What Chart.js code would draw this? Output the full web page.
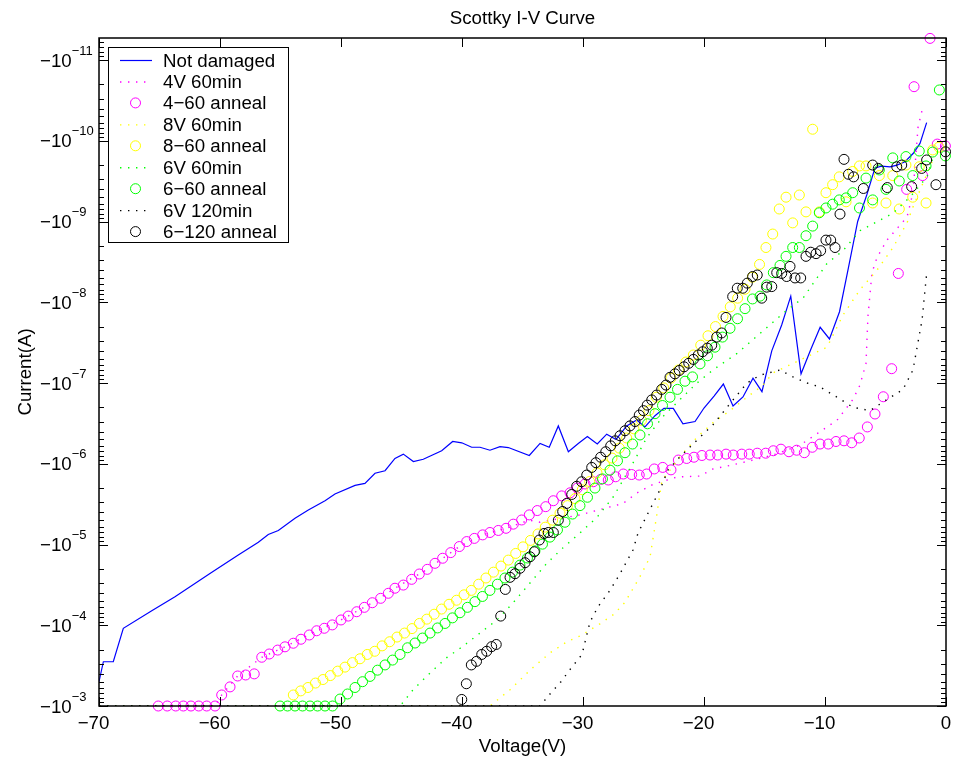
<!DOCTYPE html>
<html>
<head>
<meta charset="utf-8">
<title>Scottky I-V Curve</title>
<script src="https://cdn.jsdelivr.net/npm/chart.js@4.4.1/dist/chart.umd.min.js"></script>
<style>
  html, body { margin: 0; padding: 0; background: #fff; }
  canvas { display: block; }
</style>
</head>
<body>
<canvas id="ivChart" width="953" height="760"></canvas>
<script>
// Currents are all negative; the arrays hold their magnitude in A.
const voltNotDamaged = [-70.0, -69.64, -68.82, -67.99, -65.64, -63.72, -60.83, -58.49, -56.83, -56.01,
  -55.18, -53.80, -52.70, -51.32, -50.50, -48.84, -48.02, -47.19, -46.36, -45.54,
  -44.85, -44.02, -43.20, -41.68, -40.77, -40.02, -39.20, -38.51, -37.69, -36.86,
  -36.17, -34.44, -33.55, -32.79, -32.04, -31.21, -30.39, -29.64, -28.82, -28.04,
  -27.27, -26.39, -25.56, -24.88, -24.05, -23.31, -22.54, -21.74, -20.74, -20.0,
  -19.17, -18.40, -17.60, -16.78, -15.95, -15.21, -14.40, -13.58, -12.83, -11.98,
  -11.16, -10.40, -9.63, -8.80, -8.07, -7.30, -6.55, -5.87, -5.31, -4.63,
  -4.05, -3.39, -2.70, -2.15, -1.60];
const currNotDamaged = [5.0e-4, 2.83e-4, 2.83e-4, 1.09e-4, 6.6e-5, 4.43e-5, 2.28e-5, 1.35e-5, 9.4e-6, 7.5e-6,
  6.7e-6, 4.74e-6, 3.74e-6, 2.87e-6, 2.37e-6, 1.85e-6, 1.75e-6, 1.31e-6, 1.22e-6, 8.6e-7,
  7.6e-7, 9.4e-7, 8.8e-7, 6.9e-7, 5.3e-7, 5.5e-7, 6.25e-7, 6.25e-7, 6.8e-7, 6.15e-7,
  6.3e-7, 7.9e-7, 5.6e-7, 6.25e-7, 3.4e-7, 7.1e-7, 5.6e-7, 4.6e-7, 5.7e-7, 4.3e-7,
  5.0e-7, 3.4e-7, 2.87e-7, 3.5e-7, 2.54e-7, 2.06e-7, 2.06e-7, 3.2e-7, 3.0e-7, 2.04e-7,
  1.45e-7, 1.03e-7, 1.93e-7, 1.49e-7, 8.7e-8, 1.28e-7, 4.0e-8, 1.91e-8, 8.4e-9, 7.7e-8,
  3.8e-8, 2.04e-8, 2.85e-8, 1.31e-8, 3.77e-9, 1.0e-9, 4.7e-10, 2.17e-10, 2.06e-10, 2.1e-10,
  2.0e-10, 1.82e-10, 1.43e-10, 1.08e-10, 5.97e-11];

const volt4V60 = [-70.0, -60.41, -59.86, -58.54, -56.55, -54.63, -52.01, -50.0, -47.41, -45.54,
  -42.87, -40.22, -38.29, -36.36, -34.44, -33.55, -30.25, -26.69,
  -25.54, -24.21, -22.23, -20.33, -19.26, -17.60, -15.95, -14.30, -12.07, -10.41,
  -9.01, -7.69, -7.11, -6.61, -6.45, -6.12, -5.70, -4.88, -3.22, -2.73, -2.31, -1.98];
const curr4V60 = [1e-3, 1e-3, 7.3e-4, 4.25e-4, 2.49e-4, 1.85e-4, 1.17e-4, 8.6e-5, 5.26e-5, 3.48e-5,
  2.03e-5, 1.06e-5, 7.6e-6, 6.3e-6, 5.0e-6, 5.3e-6, 4.3e-6, 3.1e-6,
  2.3e-6, 1.8e-6, 1.46e-6, 1.42e-6, 1.16e-6, 1.03e-6, 9.0e-7, 7.8e-7, 5.9e-7, 4.0e-7,
  2.9e-7, 1.6e-7, 1.06e-7, 5.7e-8, 1.5e-8, 4.3e-9, 2.8e-9, 1.7e-9, 8.8e-10, 4.4e-10, 6.8e-11, 4.2e-11];

const voltAnneal4_60 = [-65.10, -64.36, -63.66, -63.03, -62.40, -61.76, -61.10, -60.41,
  -59.86, -59.17, -58.54, -57.88, -57.17, -56.55, -55.93, -55.23, -54.63, -53.94,
  -53.31, -52.62, -52.01, -51.38, -50.72, -50.00, -49.40, -48.70, -48.07, -47.41,
  -46.72, -46.09, -45.54, -44.85, -44.16, -43.53, -42.87, -42.23, -41.60, -40.93,
  -40.22, -39.61, -38.98, -38.29, -37.69, -37.00, -36.36, -35.76, -35.07, -34.44,
  -33.78, -33.08, -32.45, -31.76, -31.07, -30.47, -29.83, -29.15, -28.54, -27.91,
  -27.30, -26.67, -25.98, -25.35, -24.74, -24.11, -23.41, -22.73, -22.12, -21.43,
  -20.83, -20.17, -19.50, -18.87, -18.18, -17.58, -16.88, -16.26, -15.60, -14.90,
  -14.27, -13.64, -12.98, -12.34, -11.71, -11.05, -10.41, -9.73, -9.09, -8.43,
  -7.79, -7.17, -6.50, -5.87, -5.18, -4.49, -3.94, -3.25, -2.64, -1.93,
  -1.32, -0.72, -0.05];
const currAnneal4_60 = [1e-3, 1e-3, 1e-3, 1e-3, 1e-3, 1e-3, 1e-3, 1e-3,
  7.3e-4, 5.8e-4, 4.25e-4, 4.13e-4, 4.0e-4, 2.49e-4, 2.27e-4, 2.03e-4, 1.85e-4, 1.67e-4,
  1.49e-4, 1.32e-4, 1.17e-4, 1.09e-4, 9.9e-5, 8.6e-5, 7.7e-5, 6.8e-5, 6.0e-5, 5.26e-5,
  4.64e-5, 4.02e-5, 3.48e-5, 3.18e-5, 2.70e-5, 2.32e-5, 2.03e-5, 1.71e-5, 1.48e-5, 1.26e-5,
  1.06e-5, 9.2e-6, 8.4e-6, 7.6e-6, 7.1e-6, 6.7e-6, 6.3e-6, 5.6e-6, 4.97e-6, 4.3e-6,
  3.8e-6, 3.4e-6, 2.87e-6, 2.5e-6, 2.29e-6, 2.0e-6, 1.78e-6, 1.67e-6, 1.56e-6, 1.59e-6,
  1.45e-6, 1.34e-6, 1.36e-6, 1.38e-6, 1.34e-6, 1.16e-6, 1.11e-6, 1.19e-6, 9.0e-7, 8.6e-7,
  8.3e-7, 7.9e-7, 7.8e-7, 7.8e-7, 7.6e-7, 7.8e-7, 7.6e-7, 7.6e-7, 7.4e-7, 7.4e-7,
  6.9e-7, 6.6e-7, 7.1e-7, 6.8e-7, 7.3e-7, 6.25e-7, 5.7e-7, 5.7e-7, 5.3e-7, 5.2e-7,
  5.5e-7, 4.8e-7, 3.5e-7, 2.42e-7, 1.48e-7, 6.65e-8, 4.4e-9, 4.0e-10, 2.14e-11, 2.7e-10,
  5.4e-12, 1.1e-10, 1.16e-10];

const volt8V60 = [-70.0, -37.69, -36.03, -34.38, -32.73, -31.32, -30.25, -28.60, -27.44, -26.53,
  -25.29, -24.46, -23.97, -23.47, -22.81, -21.98, -20.58, -19.26, -17.85, -16.45,
  -15.12, -14.30, -12.07, -9.83, -8.51, -7.11, -5.70, -4.38, -3.22, -2.73, -1.07];
const curr8V60 = [1e-3, 1e-3, 6.3e-4, 3.6e-4, 2.2e-4, 1.6e-4, 1.36e-4, 9.6e-5, 7.3e-5, 5.2e-5,
  2.5e-5, 1.43e-5, 5.0e-6, 1.6e-6, 1.2e-6, 8.2e-7, 4.7e-7, 3.1e-7, 2.2e-7, 1.5e-7,
  1.06e-7, 7.5e-8, 5.2e-8, 3.6e-8, 1.44e-8, 7.0e-9, 4.0e-9, 2.1e-9, 1.04e-9, 6.6e-10, 1.7e-10];

const voltAnneal8_60 = [-53.94, -53.33, -52.73, -52.11, -51.49, -50.88, -50.27, -49.67, -49.05, -48.43,
  -47.83, -47.21, -46.60, -45.98, -45.37, -44.75, -44.13, -43.52, -42.91, -42.30,
  -41.69, -41.07, -40.45, -39.83, -39.23, -38.62, -38.02, -37.40, -36.78, -36.17,
  -35.56, -34.96, -34.34, -33.72, -33.12, -32.51, -31.90, -31.28, -30.66, -30.06,
  -29.45, -28.84, -28.22, -27.60, -27.00, -26.39, -25.79, -25.17, -24.55, -23.94,
  -23.33, -22.73, -22.11, -21.49, -20.88, -20.27, -19.67, -19.05, -18.43, -17.83,
  -17.22, -16.61, -16.00, -15.41, -14.88, -14.32, -13.78, -13.22, -12.67, -12.12,
  -11.57, -11.02, -10.47, -9.92, -9.37, -8.82, -8.26, -7.71, -7.15, -6.61,
  -6.06, -5.51, -4.96, -4.40, -3.86, -3.31, -2.75, -2.21, -1.65, -1.10, -0.58];
const currAnneal8_60 = [7.3e-4, 6.5e-4, 5.9e-4, 5.2e-4, 4.7e-4, 4.2e-4, 3.7e-4, 3.3e-4, 2.9e-4, 2.6e-4,
  2.3e-4, 2.1e-4, 1.8e-4, 1.6e-4, 1.4e-4, 1.25e-4, 1.1e-4, 9.5e-5, 8.4e-5, 7.3e-5,
  6.3e-5, 5.5e-5, 4.9e-5, 4.2e-5, 3.7e-5, 3.1e-5, 2.6e-5, 2.2e-5, 1.85e-5, 1.56e-5,
  1.29e-5, 1.07e-5, 8.9e-6, 7.4e-6, 6.1e-6, 5.0e-6, 4.1e-6, 3.3e-6, 2.7e-6, 2.1e-6,
  1.66e-6, 1.3e-6, 1.03e-6, 8.5e-7, 6.4e-7, 4.8e-7, 3.7e-7, 2.9e-7, 2.2e-7, 1.5e-7,
  1.15e-7, 8.7e-8, 6.9e-8, 5.5e-8, 4.5e-8, 3.4e-8, 2.6e-8, 2.0e-8, 1.5e-8, 1.14e-8,
  8.9e-9, 6.9e-9, 4.9e-9, 3.4e-9, 2.1e-9, 1.43e-9, 7.0e-10, 5.0e-10, 1.04e-9, 4.7e-10,
  7.6e-10, 7.2e-11, 7.6e-10, 4.4e-10, 3.5e-10, 2.8e-10, 5.7e-10, 2.4e-10, 2.05e-10, 2.05e-10,
  5.9e-10, 2.7e-10, 5.9e-10, 2.7e-10, 7.0e-10, 2.0e-10, 5.0e-10, 2.1e-10, 5.9e-10, 1.3e-10, 1.2e-10];

const volt6V60 = [-70.0, -45.12, -44.05, -42.64, -41.24, -40.0, -38.51, -37.11, -35.79, -34.38,
  -32.98, -31.65, -30.25, -28.84, -27.52, -25.95, -24.71, -23.39, -21.98, -20.58,
  -19.26, -17.27, -15.95, -13.14, -11.82, -9.83, -8.51, -7.11, -4.38, -2.98, -1.57, -1.07];
const curr6V60 = [1e-3, 1e-3, 6.3e-4, 3.9e-4, 2.5e-4, 1.86e-4, 1.25e-4, 8.6e-5, 5.3e-5, 3.0e-5,
  1.7e-5, 1.1e-5, 7.2e-6, 4.6e-6, 2.6e-6, 1.03e-6, 4.7e-7, 2.6e-7, 1.6e-7, 1.0e-7,
  6.9e-8, 4.3e-8, 2.9e-8, 1.25e-8, 8.9e-9, 3.3e-9, 2.3e-9, 1.3e-9, 7.9e-10, 5.0e-10, 2.8e-10, 1.6e-10];

const voltAnneal6_60 = [-55.04, -54.42, -53.80, -53.18, -52.56, -51.94, -51.32, -50.70,
  -50.08, -49.46, -48.84, -48.22, -47.60, -46.98, -46.36, -45.74, -45.12, -44.50,
  -43.88, -43.26, -42.64, -42.02, -41.40, -40.79, -40.17, -39.55, -38.93, -38.31,
  -37.69, -37.07, -36.45, -35.83, -35.21, -34.59, -33.97, -33.35, -32.73, -32.11,
  -31.49, -30.87, -30.25, -29.63, -29.01, -28.39, -27.77, -27.15, -26.53, -25.91,
  -25.29, -24.67, -24.05, -23.43, -22.81, -22.19, -21.57, -20.95, -20.33, -19.71,
  -19.09, -18.47, -17.85, -17.23, -16.61, -15.99, -15.37, -14.82, -14.27, -13.72,
  -13.22, -12.67, -12.12, -11.57, -11.02, -10.47, -9.92, -9.37, -8.82, -8.26,
  -7.71, -7.15, -6.61, -6.06, -5.51, -4.96, -4.40, -3.86, -3.31, -2.75,
  -2.21, -1.65, -1.10, -0.55, -0.05];
const currAnneal6_60 = [1e-3, 1e-3, 1e-3, 1e-3, 1e-3, 1e-3, 1e-3, 1e-3,
  8.2e-4, 7.1e-4, 5.9e-4, 5.0e-4, 4.3e-4, 3.6e-4, 3.1e-4, 2.7e-4, 2.3e-4, 1.9e-4,
  1.66e-4, 1.44e-4, 1.25e-4, 1.08e-4, 9.5e-5, 8.1e-5, 7.0e-5, 6.0e-5, 5.1e-5, 4.4e-5,
  3.7e-5, 3.1e-5, 2.6e-5, 2.2e-5, 1.8e-5, 1.47e-5, 1.2e-5, 9.9e-6, 8.1e-6, 6.6e-6,
  5.3e-6, 4.2e-6, 3.3e-6, 2.6e-6, 2.0e-6, 1.54e-6, 1.2e-6, 9.2e-7, 7.3e-7, 5.7e-7,
  4.4e-7, 3.2e-7, 2.4e-7, 1.9e-7, 1.5e-7, 1.2e-7, 9.5e-8, 8.4e-8, 5.8e-8, 4.6e-8,
  3.6e-8, 2.7e-8, 2.1e-8, 1.6e-8, 1.2e-8, 9.1e-9, 8.4e-9, 6.1e-9, 4.3e-9, 3.5e-9,
  2.7e-9, 2.1e-9, 2.1e-9, 1.5e-9, 1.14e-9, 7.8e-10, 6.8e-10, 6.1e-10, 5.4e-10, 5.1e-10,
  4.4e-10, 6.8e-10, 2.9e-10, 5.4e-10, 2.3e-10, 4.0e-10, 1.63e-10, 3.15e-10, 1.57e-10, 2.7e-10,
  1.34e-10, 2.05e-10, 1.38e-10, 2.35e-11, 1.54e-10];

const volt6V120 = [-70.0, -33.55, -32.73, -31.82, -30.99, -30.08, -29.75, -29.42, -28.76, -27.77,
  -26.94, -25.87, -25.45, -24.63, -23.64, -22.98, -21.98, -20.58, -19.26, -17.85,
  -16.45, -15.37, -13.72, -12.64, -11.49, -10.41, -9.01, -7.69, -6.28, -4.88,
  -3.55, -2.73, -1.98, -1.57];
const curr6V120 = [1e-3, 1e-3, 7.1e-4, 5.0e-4, 3.4e-4, 2.3e-4, 1.44e-4, 9.1e-5, 5.9e-5, 3.7e-5,
  2.3e-5, 1.17e-5, 7.2e-6, 4.1e-6, 2.1e-6, 1.2e-6, 8.2e-7, 5.1e-7, 3.3e-7, 1.8e-7,
  1.0e-7, 8.0e-8, 6.9e-8, 8.4e-8, 1.0e-7, 1.12e-7, 1.5e-7, 2.0e-7, 2.2e-7, 1.6e-7,
  1.2e-7, 6.9e-8, 1.66e-8, 4.0e-9];

const voltAnneal6_120 = [-40.02, -39.64, -39.23, -38.80, -38.37, -37.96, -37.55, -37.17, -36.80, -36.42,
  -36.03, -35.62, -35.21, -34.79, -34.38, -34.02, -33.61, -33.22, -32.87, -32.45,
  -32.04, -31.68, -31.35, -30.93, -30.52, -30.11, -29.69, -29.28, -28.93, -28.54,
  -28.12, -27.71, -27.33, -26.94, -26.53, -26.12, -25.70, -25.35, -25.00, -24.69,
  -24.32, -23.91, -23.50, -23.14, -22.81, -22.40, -22.04, -21.65, -21.26, -20.88,
  -20.47, -20.11, -19.73, -19.36, -18.95, -18.54, -18.18, -17.63, -17.25, -16.80,
  -16.42, -15.98, -15.60, -15.23, -14.82, -14.40, -13.99, -13.58, -13.17, -12.89,
  -12.48, -12.01, -11.57, -11.18, -10.74, -10.36, -9.92, -9.53, -9.17, -8.76,
  -8.43, -8.06, -7.64, -6.83, -6.06, -5.60, -4.85, -4.07, -3.66, -2.84,
  -2.01, -1.60, -0.83, -0.04];
const currAnneal6_120 = [8.3e-4, 5.3e-4, 3.1e-4, 2.8e-4, 2.3e-4, 2.1e-4, 1.84e-4, 1.73e-4, 7.7e-5, 3.6e-5,
  2.55e-5, 2.3e-5, 1.97e-5, 1.68e-5, 1.42e-5, 1.23e-5, 8.8e-6, 7.3e-6, 7.1e-6, 7.1e-6,
  5.0e-6, 3.9e-6, 3.1e-6, 2.4e-6, 1.9e-6, 1.67e-6, 1.38e-6, 1.11e-6, 9.7e-7, 8.3e-7,
  7.1e-7, 6.0e-7, 5.2e-7, 4.5e-7, 3.9e-7, 3.4e-7, 3.0e-7, 2.5e-7, 2.2e-7, 1.88e-7,
  1.62e-7, 1.41e-7, 1.2e-7, 1.06e-7, 8.5e-8, 7.7e-8, 7.0e-8, 6.3e-8, 5.7e-8, 5.1e-8,
  4.5e-8, 4.1e-8, 3.7e-8, 3.4e-8, 2.7e-8, 2.4e-8, 1.54e-8, 8.5e-9, 6.7e-9, 6.7e-9,
  5.8e-9, 4.8e-9, 4.6e-9, 8.9e-9, 6.5e-9, 6.4e-9, 4.3e-9, 4.4e-9, 4.8e-9, 3.6e-9,
  5.0e-9, 5.0e-9, 2.7e-9, 2.4e-9, 2.5e-9, 2.3e-9, 1.7e-9, 1.7e-9, 2.1e-9, 8.1e-10,
  1.7e-10, 2.6e-10, 2.8e-10, 3.9e-10, 2.0e-10, 2.2e-10, 3.8e-10, 2.1e-10, 2.0e-10, 3.7e-10,
  2.2e-10, 1.73e-10, 3.5e-10, 1.37e-10];

const xTicks = [-70, -60, -50, -40, -30, -20, -10, 0];
const yDecades = [-11, -10, -9, -8, -7, -6, -5, -4, -3];
const xMin = -70, xMax = 0;
const yMin = 5.34e-12, yMax = 1e-3;

const FONT = '"Liberation Sans", Arial, Helvetica, sans-serif';
const TEXT_PX = 18.7;

function pts(volts, currs) {
  return volts.map((v, i) => ({ x: v, y: currs[i] }));
}

function lineSet(label, color, volts, currs, dotted, order) {
  return {
    label: label,
    data: pts(volts, currs),
    showLine: true,
    borderColor: color,
    borderWidth: dotted ? 1.4 : 1.2,
    borderDash: dotted ? [1.4, 6.6] : [],
    pointRadius: 0,
    order: order
  };
}

function circleSet(label, color, volts, currs, order) {
  return {
    label: label,
    data: pts(volts, currs),
    showLine: false,
    pointStyle: 'circle',
    pointRadius: 5,
    pointBorderWidth: 1,
    pointBorderColor: color,
    pointBackgroundColor: 'rgba(0,0,0,0)',
    borderColor: color,
    clip: false,
    order: order
  };
}

// later datasets get a lower order so they are painted on top, like the original plot
const datasets = [
  lineSet('Not damaged', '#0000ff', voltNotDamaged, currNotDamaged, false, 8),
  lineSet('4V 60min', '#ff00ff', volt4V60, curr4V60, true, 7),
  circleSet('4\u221260 anneal', '#ff00ff', voltAnneal4_60, currAnneal4_60, 6),
  lineSet('8V 60min', '#ffff00', volt8V60, curr8V60, true, 5),
  circleSet('8\u221260 anneal', '#ffff00', voltAnneal8_60, currAnneal8_60, 4),
  lineSet('6V 60min', '#00ff00', volt6V60, curr6V60, true, 3),
  circleSet('6\u221260 anneal', '#00ff00', voltAnneal6_60, currAnneal6_60, 2),
  lineSet('6V 120min', '#000000', volt6V120, curr6V120, true, 1),
  circleSet('6\u2212120 anneal', '#000000', voltAnneal6_120, currAnneal6_120, 0)
];

// axes box, inward ticks, tex-like labels and the boxed legend
const matlabAxes = {
  id: 'matlabAxes',
  beforeDraw(chart) {
    const c = chart.ctx;
    c.save();
    c.fillStyle = '#ffffff';
    c.fillRect(0, 0, chart.width, chart.height);
    c.restore();
  },
  afterDatasetsDraw(chart) {
    const c = chart.ctx, a = chart.chartArea;
    const xs = chart.scales.x, ys = chart.scales.y;
    c.save();
    c.strokeStyle = '#000';
    c.lineWidth = 1;
    c.beginPath();
    xTicks.forEach(v => {
      const px = Math.round(xs.getPixelForValue(v)) + 0.5;
      c.moveTo(px, a.bottom); c.lineTo(px, a.bottom - 9);
      c.moveTo(px, a.top); c.lineTo(px, a.top + 9);
    });
    for (let e = -12; e <= -3; e++) {
      for (let k = 1; k <= 9; k++) {
        const v = k * Math.pow(10, e);
        if (v < yMin || v > yMax * 1.0001) continue;
        const py = Math.round(ys.getPixelForValue(v)) + 0.5;
        const len = k === 1 ? 9 : 5;
        c.moveTo(a.left, py); c.lineTo(a.left + len, py);
        c.moveTo(a.right, py); c.lineTo(a.right - len, py);
      }
    }
    c.stroke();

    c.lineWidth = 1.5;
    c.strokeRect(a.left, a.top, a.right - a.left, a.bottom - a.top);

    c.fillStyle = '#000';
    c.textBaseline = 'alphabetic';

    // x tick labels: digits centred on the tick, the minus hangs to the left
    c.font = TEXT_PX + 'px ' + FONT;
    xTicks.forEach(v => {
      const px = xs.getPixelForValue(v);
      const digits = String(Math.abs(v));
      const dw = c.measureText(digits).width;
      c.textAlign = 'right';
      c.fillText((v < 0 ? '\u2212' : '') + digits, px + dw / 2, a.bottom + 23);
    });

    // y tick labels: −10 with a raised exponent
    c.textAlign = 'left';
    yDecades.forEach(e => {
      const py = ys.getPixelForValue(Math.pow(10, e));
      c.font = TEXT_PX + 'px ' + FONT;
      const base = '\u221210';
      c.fillText(base, 40, py + 6.5);
      const w = c.measureText(base).width;
      c.font = '13px ' + FONT;
      c.fillText('\u2212' + Math.abs(e), 40 + w, py - 5.5);
    });

    // title and axis titles
    const cx = (a.left + a.right) / 2;
    c.font = TEXT_PX + 'px ' + FONT;
    c.textAlign = 'center';
    c.fillText('Scottky I-V Curve', cx, 24);
    c.fillText('Voltage(V)', cx, 752);
    c.save();
    c.translate(31, (a.top + a.bottom) / 2);
    c.rotate(-Math.PI / 2);
    c.fillText('Current(A)', 0, 0);
    c.restore();
    c.restore();
  },
  afterDraw(chart) {
    const c = chart.ctx;
    const box = { x: 108.5, y: 47.5, w: 180, h: 195 };
    const rowTop = 60, rowStep = 21.45;
    c.save();
    c.fillStyle = '#fff';
    c.fillRect(box.x, box.y, box.w, box.h);
    c.strokeStyle = '#000';
    c.lineWidth = 1;
    c.strokeRect(box.x, box.y, box.w, box.h);
    c.font = TEXT_PX + 'px ' + FONT;
    c.textAlign = 'left';
    c.textBaseline = 'alphabetic';
    chart.data.datasets.forEach((ds, i) => {
      const y = rowTop + i * rowStep;
      if (ds.showLine) {
        c.strokeStyle = ds.borderColor;
        c.lineWidth = ds.borderWidth;
        c.setLineDash(ds.borderDash || []);
        c.beginPath();
        c.moveTo(120, y + 0.5);
        c.lineTo(152, y + 0.5);
        c.stroke();
        c.setLineDash([]);
      } else {
        c.strokeStyle = ds.pointBorderColor;
        c.lineWidth = 1;
        c.beginPath();
        c.arc(135.5, y, 5, 0, Math.PI * 2);
        c.stroke();
      }
      c.fillStyle = '#000';
      c.fillText(ds.label, 163, y + 6.5);
    });
    c.restore();
  }
};

new Chart(document.getElementById('ivChart'), {
  type: 'scatter',
  data: { datasets: datasets },
  options: {
    responsive: false,
    animation: false,
    layout: { padding: { left: 99, top: 38, right: 7, bottom: 54 } },
    plugins: {
      legend: { display: false },
      title: { display: false },
      tooltip: { enabled: false }
    },
    scales: {
      x: { type: 'linear', min: xMin, max: xMax, display: false },
      y: { type: 'logarithmic', min: yMin, max: yMax, reverse: true, display: false }
    }
  },
  plugins: [matlabAxes]
});
</script>
</body>
</html>
